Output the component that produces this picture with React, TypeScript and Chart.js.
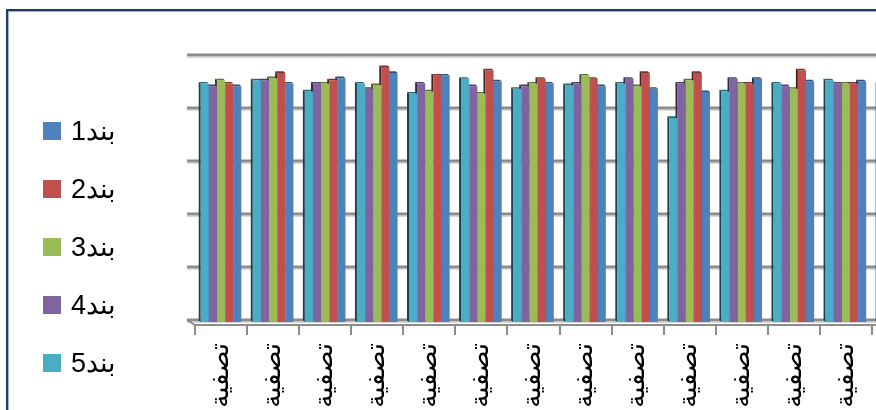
import React, { useEffect, useRef } from "react";
import { Chart, registerables } from "chart.js";

Chart.register(...registerables);

const categories = [
  "تصفية", "تصفية", "تصفية", "تصفية", "تصفية", "تصفية", "تصفية",
  "تصفية", "تصفية", "تصفية", "تصفية", "تصفية", "تصفية", "تصفية",
];

const seriesNames = ["بند1", "بند2", "بند3", "بند4", "بند5"];
const seriesColors = ["#4f81bd", "#c0504d", "#9bbb59", "#8064a2", "#4bacc6"];

const band1 = [4.45, 4.5, 4.6, 4.7, 4.65, 4.54, 4.5, 4.45, 4.4, 4.34, 4.59, 4.54, 4.54, 4.5];
const band2 = [4.5, 4.7, 4.56, 4.81, 4.65, 4.75, 4.59, 4.59, 4.7, 4.7, 4.5, 4.75, 4.5, 4.6];
const band3 = [4.56, 4.6, 4.5, 4.47, 4.35, 4.31, 4.5, 4.65, 4.45, 4.56, 4.5, 4.4, 4.5, 4.5];
const band4 = [4.45, 4.56, 4.5, 4.4, 4.5, 4.45, 4.45, 4.5, 4.59, 4.5, 4.59, 4.45, 4.5, 4.5];
const band5 = [4.5, 4.56, 4.35, 4.5, 4.31, 4.59, 4.4, 4.47, 4.5, 3.85, 4.35, 4.5, 4.56, 4.5];

const gridValues = [0, 1, 2, 3, 4, 5];

function shade(hex: string, f: number): string {
  const n = parseInt(hex.slice(1), 16);
  const r = Math.round(((n >> 16) & 255) * f);
  const g = Math.round(((n >> 8) & 255) * f);
  const b = Math.round((n & 255) * f);
  return `rgb(${r},${g},${b})`;
}

const depthPlugin = {
  id: "depth3d",
  beforeDatasetsDraw(chart: any) {
    const { ctx, chartArea, scales } = chart;
    const ys = scales.y;
    ctx.save();
    for (const v of gridValues) {
      const py = ys.getPixelForValue(v) - 2;
      ctx.strokeStyle = "#d6d6d6";
      ctx.lineWidth = 1;
      ctx.beginPath();
      ctx.moveTo(chartArea.left - 8, py + 2.5);
      ctx.lineTo(chartArea.right, py + 2.5);
      ctx.stroke();
      ctx.strokeStyle = "#8c8c8c";
      ctx.lineWidth = 3;
      ctx.beginPath();
      ctx.moveTo(chartArea.left - 8, py);
      ctx.lineTo(chartArea.right, py);
      ctx.stroke();
    }
    const y0 = ys.getPixelForValue(0) - 2;
    ctx.strokeStyle = "#8c8c8c";
    ctx.lineWidth = 2;
    ctx.beginPath();
    ctx.moveTo(chartArea.left - 8, y0);
    ctx.lineTo(chartArea.left, chartArea.bottom);
    ctx.stroke();

    const dx = 2;
    const dy = 1.6;
    chart.data.datasets.forEach((ds: any, i: number) => {
      const meta = chart.getDatasetMeta(i);
      const base = ds.backgroundColor as string;
      meta.data.forEach((bar: any) => {
        const p = bar.getProps(["x", "y", "base", "width"], true);
        const L = p.x - p.width / 2;
        const R = p.x + p.width / 2;
        ctx.fillStyle = shade(base, 0.38);
        ctx.beginPath();
        ctx.moveTo(L, p.y);
        ctx.lineTo(L - dx, p.y - dy);
        ctx.lineTo(L - dx, p.base - dy);
        ctx.lineTo(L, p.base);
        ctx.closePath();
        ctx.fill();
        ctx.fillStyle = shade(base, 0.6);
        ctx.beginPath();
        ctx.moveTo(L, p.y);
        ctx.lineTo(R, p.y);
        ctx.lineTo(R - dx, p.y - dy);
        ctx.lineTo(L - dx, p.y - dy);
        ctx.closePath();
        ctx.fill();
      });
    });
    ctx.restore();
  },
};

export default function App() {
  const ref = useRef<HTMLCanvasElement | null>(null);

  useEffect(() => {
    if (!ref.current) return;
    const order = [4, 3, 2, 1, 0];
    const values = [band1, band2, band3, band4, band5];
    const chart = new Chart(ref.current, {
      type: "bar",
      data: {
        labels: categories,
        datasets: order.map((k) => ({
          label: seriesNames[k],
          data: values[k],
          backgroundColor: seriesColors[k],
          borderWidth: 0,
          categoryPercentage: 0.78,
          barPercentage: 1,
        })),
      },
      options: {
        responsive: false,
        animation: false,
        devicePixelRatio: 1,
        layout: { padding: { left: 195, top: 57, right: 0, bottom: 0 } },
        plugins: { legend: { display: false }, tooltip: { enabled: false } },
        scales: {
          y: { display: false, min: -0.057, max: 5 },
          x: {
            offset: true,
            grid: {
              display: true,
              drawOnChartArea: false,
              drawTicks: true,
              tickLength: 10,
              color: "#8c8c8c",
              lineWidth: 2,
            },
            border: { display: true, color: "#8c8c8c", width: 2 },
            ticks: {
              autoSkip: false,
              minRotation: 90,
              maxRotation: 90,
              padding: 8,
              color: "#000000",
              font: { family: "DejaVu Sans", size: 26 },
            },
            afterFit: (s: any) => {
              s.height = 135;
              s.paddingLeft = 0;
              s.paddingRight = 0;
            },
          },
        },
      },
      plugins: [depthPlugin],
    });
    return () => chart.destroy();
  }, []);

  const centers = [130.5, 189, 246.7, 305, 363];

  return (
    <div
      style={{
        position: "fixed",
        left: 0,
        top: 0,
        width: 876,
        height: 410,
        overflow: "hidden",
        background: "#ffffff",
      }}
    >
      <canvas
        ref={ref}
        width={924}
        height={460}
        style={{ position: "absolute", left: 0, top: 0, width: 924, height: 460 }}
      />
      <div
        style={{
          position: "absolute",
          left: 6,
          top: 9,
          width: 2000,
          height: 2000,
          borderLeft: "2px solid #1f3b63",
          borderTop: "2px solid #1f3b63",
          boxShadow: "inset 1px 1px 0 #9fb4d2",
          pointerEvents: "none",
        }}
      />
      {seriesNames.map((name, i) => (
        <div
          key={name}
          style={{
            position: "absolute",
            left: 43,
            top: centers[i] - 17,
            height: 34,
            display: "flex",
            alignItems: "center",
            fontFamily: "'Liberation Sans', Arial, sans-serif",
            fontSize: 27,
            color: "#000",
            whiteSpace: "nowrap",
          }}
        >
          <span
            style={{
              display: "inline-block",
              width: 18,
              height: 18,
              background: seriesColors[i],
              marginRight: 10,
            }}
          />
          <span>{name}</span>
        </div>
      ))}
    </div>
  );
}
